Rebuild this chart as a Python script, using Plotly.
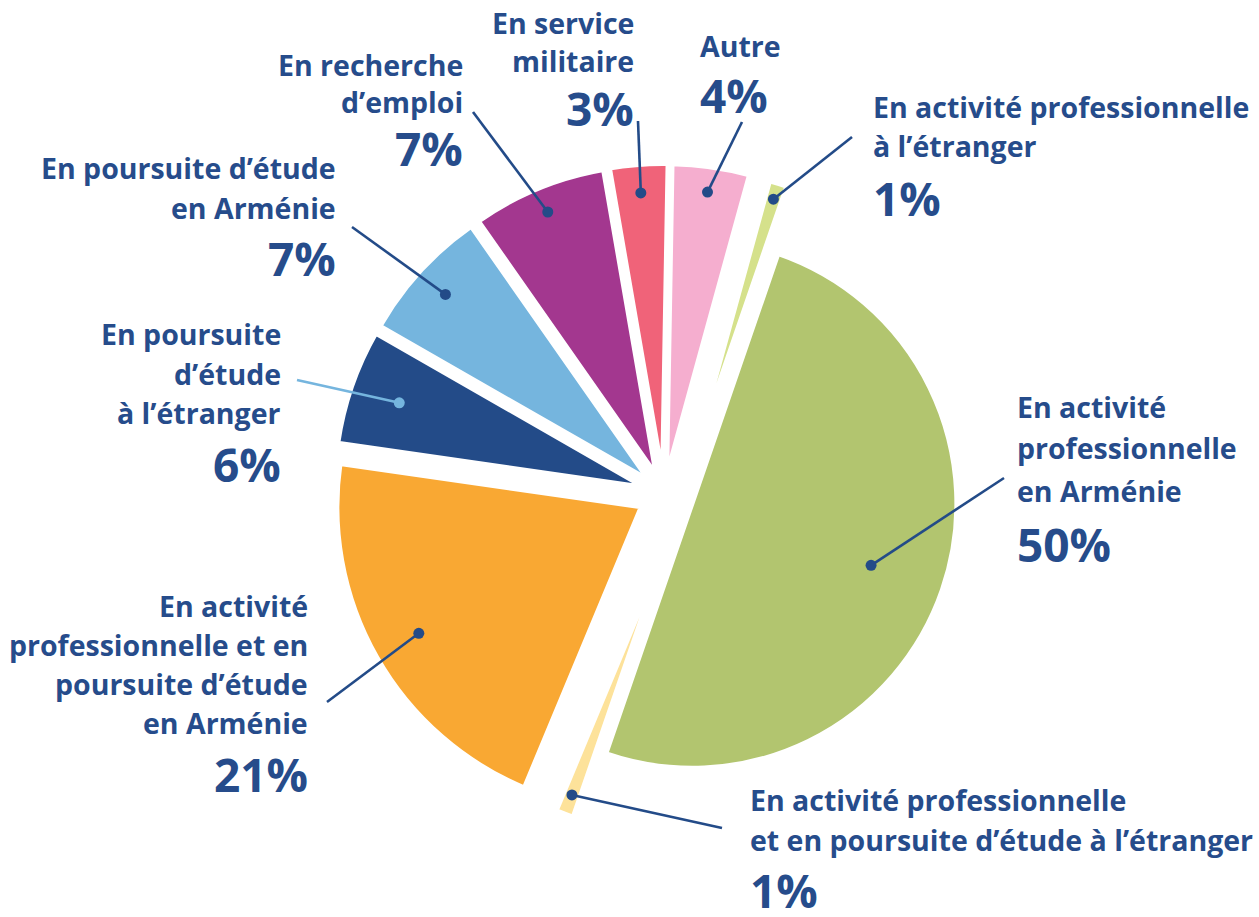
import math
import plotly.graph_objects as go

W, H = 1259, 917

# ---------------- data ----------------
categories = [
    "Autre",
    "En activité professionnelle à l’étranger",
    "En activité professionnelle en Arménie",
    "En activité professionnelle et en poursuite d’étude à l’étranger",
    "En activité professionnelle et en poursuite d’étude en Arménie",
    "En poursuite d’étude à l’étranger",
    "En poursuite d’étude en Arménie",
    "En recherche d’emploi",
    "En service militaire",
]
values = [4, 1, 50, 1, 21, 6, 7, 7, 3]
label_lines = [
    ["Autre"],
    ["En activité professionnelle", "à l’étranger"],
    ["En activité", "professionnelle", "en Arménie"],
    ["En activité professionnelle", "et en poursuite d’étude à l’étranger"],
    ["En activité", "professionnelle et en", "poursuite d’étude", "en Arménie"],
    ["En poursuite", "d’étude", "à l’étranger"],
    ["En poursuite d’étude", "en Arménie"],
    ["En recherche", "d’emploi"],
    ["En service", "militaire"],
]
slice_colors = ["#f5aecf", "#d5e18b", "#b2c56f", "#fde29a", "#f9a833",
                "#234b88", "#75b5de", "#a3378f", "#f06379"]

# ---------------- styling / layout ----------------
ROTATION = 1.0
CENTER = (664.0, 494.0)
pull_px = [18, 20, 30, 24, 26, 20, 20, 20, 18]
pull_dir = [0, 60, 0, -60, 0, 0, 0, 0, 0]
outer_px = [328, 328, 292, 332, 328, 328, 328, 328, 328]
stroke_px = [5, 7, 4, 7, 5, 5, 5, 5, 5]
dot_px = [305, 314, 219, 314, 282, 280, 296, 305, 302]
leader_colors = ["#234b88", "#234b88", "#234b88", "#234b88", "#234b88",
                 "#75b5de", "#234b88", "#234b88", "#234b88"]
label_x = [699, 872, 1016, 749, 309, 282, 337, 464, 635]
label_align = ["left", "left", "left", "left", "right", "right", "right", "right", "right"]
label_first_center = [47, 108, 408, 801, 607, 336, 170, 67, 24]
label_line_gap = [39.5, 39.5, 42, 40.5, 39, 39.5, 40, 36, 38.5]
label_pct_gap = [50, 52, 53, 49.5, 51, 50, 50, 46, 47]
leader_end = [(742, 122), (852, 137), (1004, 478), (722, 828), (327, 702),
              (297, 380), (352, 227), (473, 112), (638, 121)]
draw_order = [1, 3, 0, 2, 4, 5, 6, 7, 8]

FS_TEXT = 28.5
FS_PCT = 46
ANCHOR_SHIFT = 1.5
TEXT_COLOR = "#264c8b"
FONT = "Open Sans"


def unit(deg):
    a = math.radians(deg)
    return math.sin(a), -math.cos(a)


total = float(sum(values))
bisectors = []
acc = ROTATION
for v in values:
    span = v * 360.0 / total
    bisectors.append(acc + span / 2.0)
    acc += span

tips = []
for i in range(len(values)):
    ux, uy = unit(bisectors[i] + pull_dir[i])
    tips.append((CENTER[0] + pull_px[i] * ux, CENTER[1] + pull_px[i] * uy))

fig = go.Figure()

for i in draw_order:
    tx, ty = tips[i]
    R = outer_px[i] - pull_px[i] * math.cos(math.radians(pull_dir[i])) + stroke_px[i] / 2.0
    fig.add_trace(go.Pie(
        values=values,
        labels=categories,
        sort=False,
        direction="clockwise",
        rotation=ROTATION,
        marker=dict(
            colors=[slice_colors[j] if j == i else "rgba(0,0,0,0)" for j in range(len(values))],
            line=dict(color="white",
                      width=[stroke_px[i] if j == i else 0 for j in range(len(values))]),
        ),
        textinfo="none",
        hoverinfo="skip",
        showlegend=False,
        domain=dict(x=[(tx - R) / W, (tx + R) / W],
                    y=[1 - (ty + R) / H, 1 - (ty - R) / H]),
    ))

shapes = []
annotations = []


def px(x):
    return x / W


def py(y):
    return 1 - y / H


for i in range(len(values)):
    ux, uy = unit(bisectors[i])
    tx, ty = tips[i]
    d = dot_px[i] - pull_px[i] * math.cos(math.radians(pull_dir[i]))
    dx = tx + d * ux
    dy = ty + d * uy
    ex, ey = leader_end[i]
    col = leader_colors[i]
    shapes.append(dict(type="line", xref="paper", yref="paper",
                       x0=px(dx), y0=py(dy), x1=px(ex), y1=py(ey),
                       line=dict(color=col, width=2.6), layer="above"))
    r = 5.5
    shapes.append(dict(type="circle", xref="paper", yref="paper",
                       x0=px(dx - r), x1=px(dx + r), y0=py(dy + r), y1=py(dy - r),
                       fillcolor=col, line=dict(color=col, width=0), layer="above"))

    c0 = label_first_center[i]
    for k, line in enumerate(label_lines[i]):
        c = c0 + k * label_line_gap[i]
        annotations.append(dict(
            text="<b>" + line + "</b>", xref="paper", yref="paper",
            x=px(label_x[i]), y=py(c - ANCHOR_SHIFT),
            xanchor=label_align[i], yanchor="middle", showarrow=False,
            font=dict(family=FONT, size=FS_TEXT, color=TEXT_COLOR),
            borderpad=0))
    c = c0 + (len(label_lines[i]) - 1) * label_line_gap[i] + label_pct_gap[i]
    annotations.append(dict(
        text="<b>" + f"{values[i]}%" + "</b>", xref="paper", yref="paper",
        x=px(label_x[i]), y=py(c - ANCHOR_SHIFT),
        xanchor=label_align[i], yanchor="middle", showarrow=False,
        font=dict(family=FONT, size=FS_PCT, color=TEXT_COLOR),
        borderpad=0))

fig.update_layout(
    width=W, height=H,
    margin=dict(l=0, r=0, t=0, b=0),
    paper_bgcolor="white", plot_bgcolor="white",
    shapes=shapes, annotations=annotations,
    showlegend=False,
)

fig.write_html("out.html",
               config={"displayModeBar": False},
               post_script="document.body.style.margin='0px';document.body.style.overflow='hidden';")
